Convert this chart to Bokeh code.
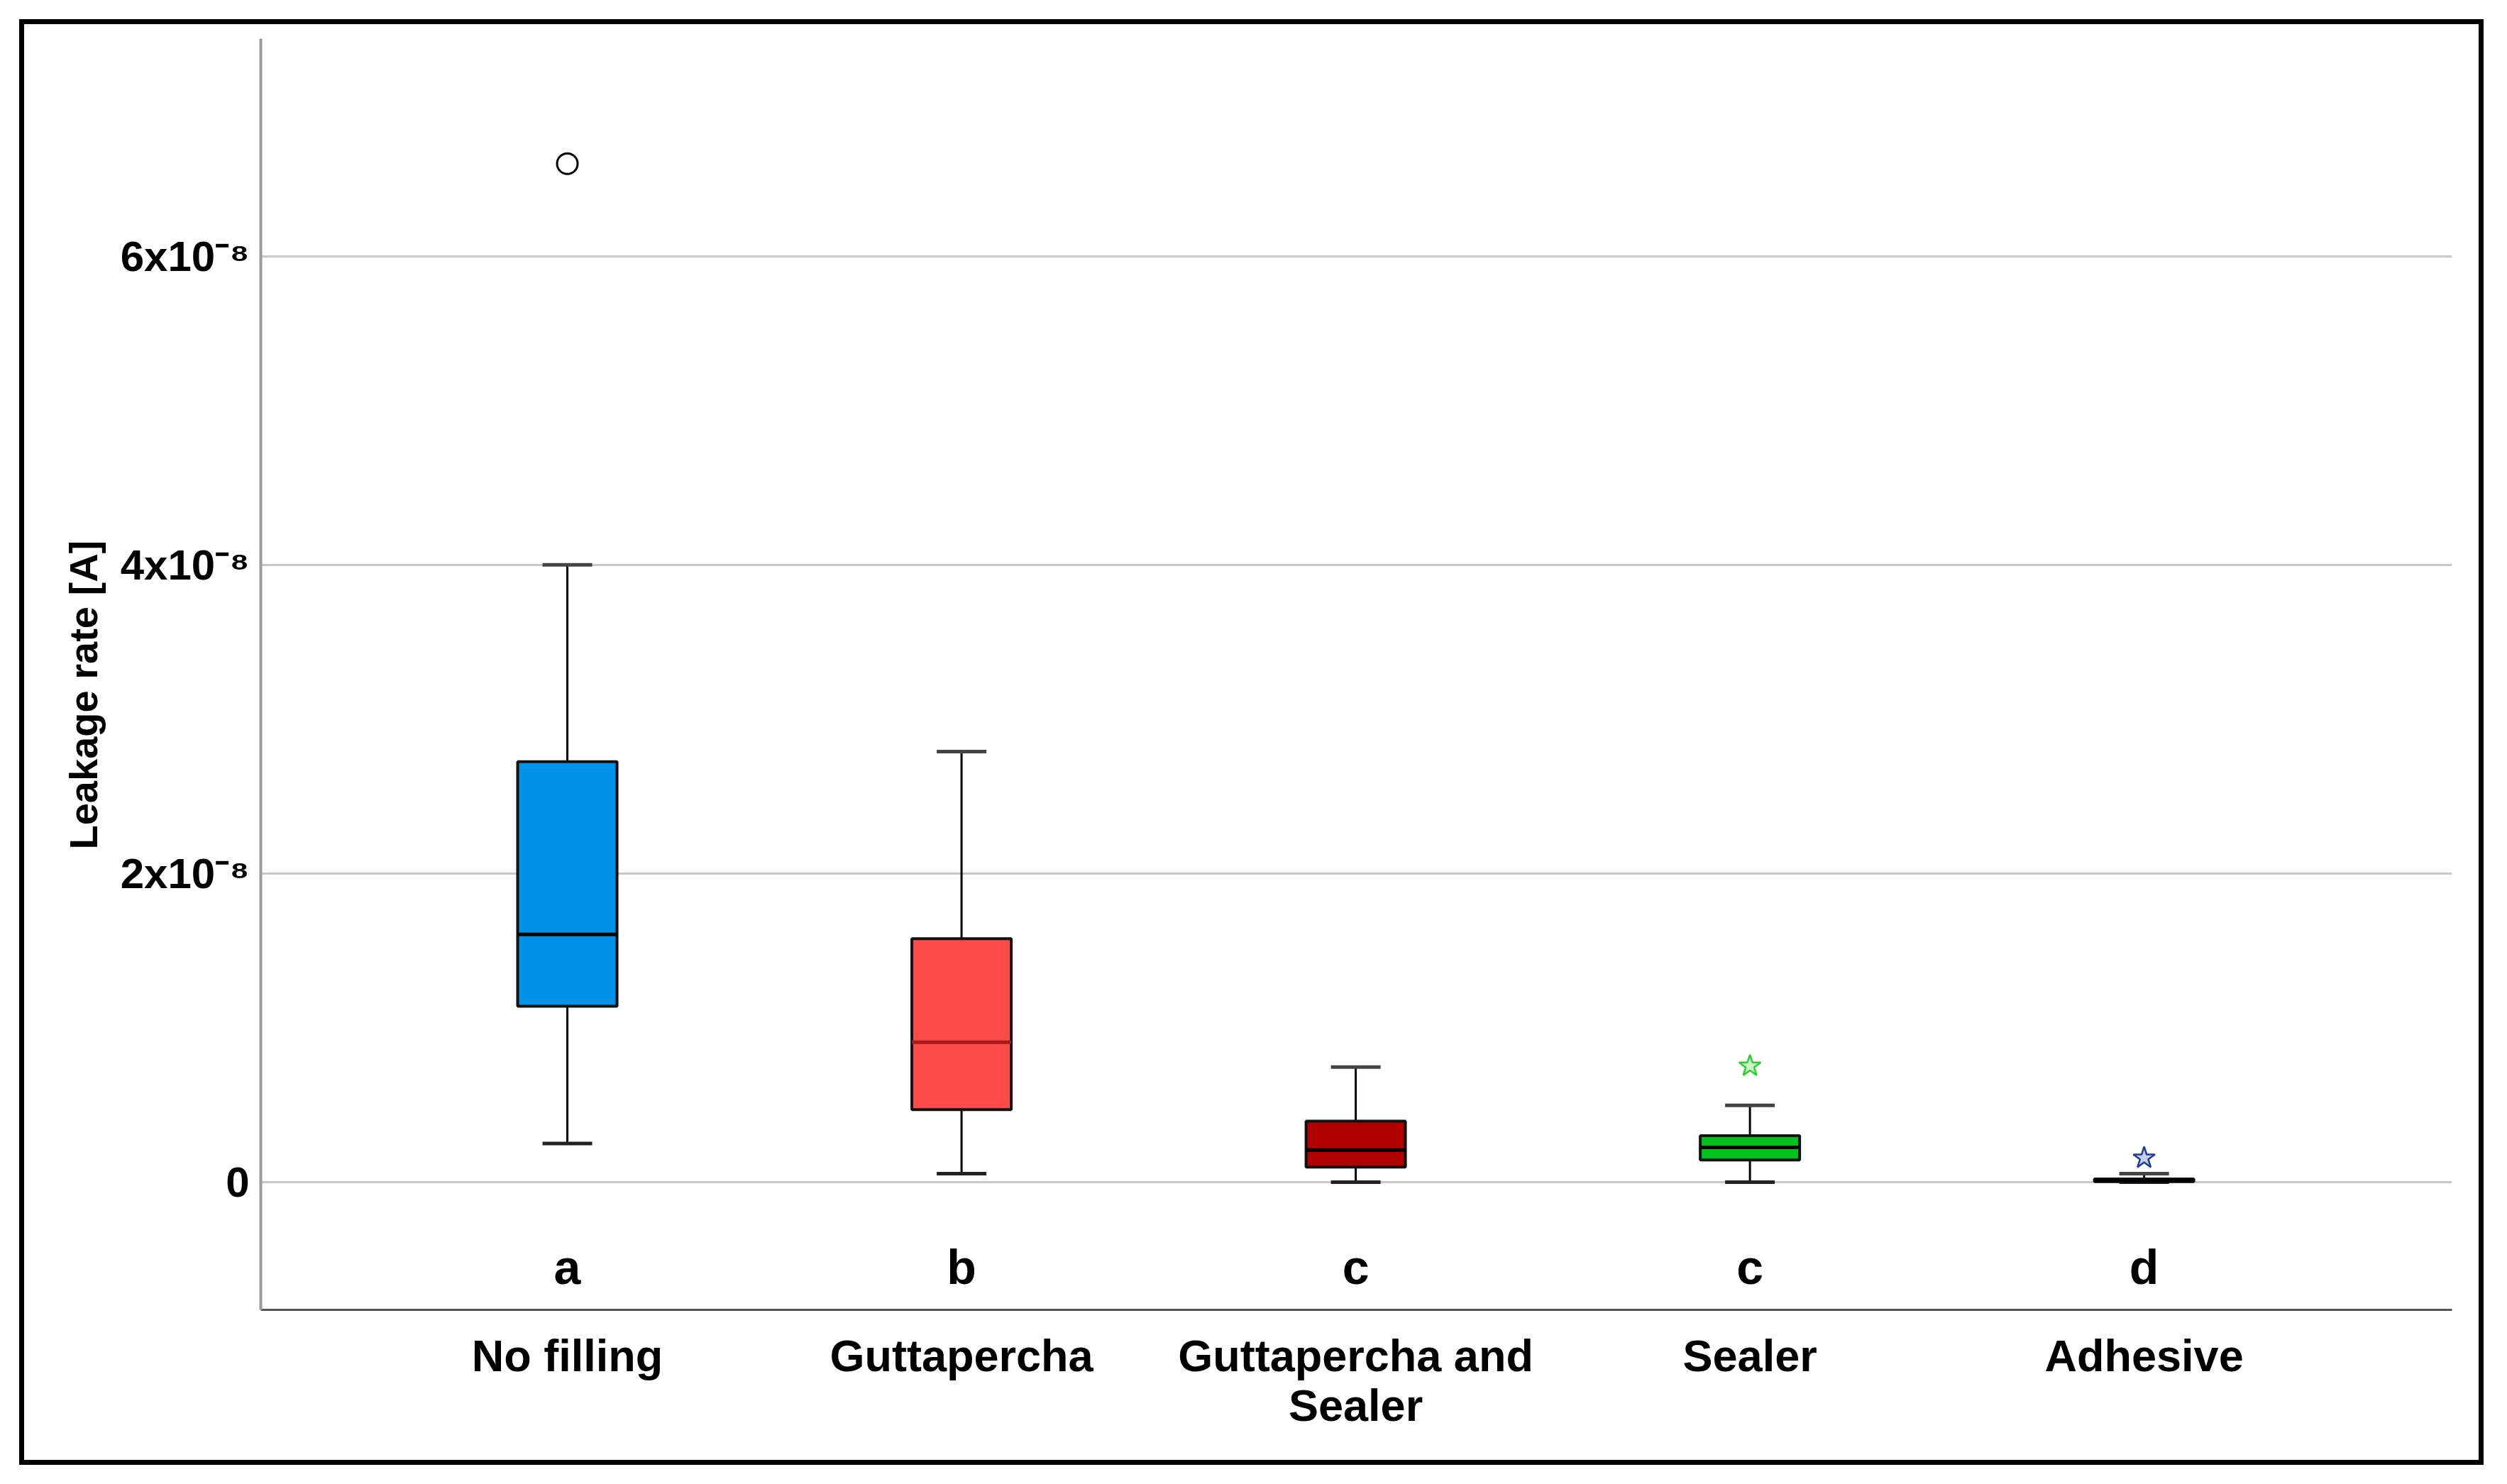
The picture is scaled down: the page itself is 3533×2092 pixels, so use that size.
from bokeh.plotting import figure
from bokeh.models import Range1d, FixedTicker, Title
from bokeh.embed import file_html
from bokeh.resources import INLINE
from bokeh.core.properties import value

# ---- data (leakage rate, in units of 1e-8 A) ----
categories = ["No filling", "Guttapercha", "Guttapercha and\nSealer", "Sealer", "Adhesive"]
letters = ["a", "b", "c", "c", "d"]
lower_whisker = [0.25, 0.055, 0.0, 0.0, 0.0]
q1 = [1.14, 0.47, 0.097, 0.143, 0.003]
median = [1.605, 0.906, 0.207, 0.225, 0.010]
q3 = [2.724, 1.577, 0.395, 0.301, 0.020]
upper_whisker = [4.0, 2.79, 0.745, 0.497, 0.055]
box_colors = ["#0091E8", "#FF4A4A", "#B00000", "#00C21A", "#101828"]
median_colors = ["#000000", "#A01E1E", "#000000", "#000000", "#000000"]
outlier_group = [1]
outlier_value = [6.60]
extreme_group = [4, 5]
extreme_value = [0.752, 0.156]
extreme_colors = ["#2ECC2E", "#1F3C96"]
y_ticks = [0, 2, 4, 6]
y_tick_labels = ["0", "2x10⁻⁸", "4x10⁻⁸", "6x10⁻⁸"]
y_title = "Leakage rate [A]"

# ---- style constants ----
BOX_W = 0.252
CAP_W = 0.126
LETTER_Y = -0.55
FONT = "Liberation Sans"

positions = list(range(1, len(categories) + 1))
half_box = [x - BOX_W / 2 for x in positions], [x + BOX_W / 2 for x in positions]
half_cap = [x - CAP_W / 2 for x in positions], [x + CAP_W / 2 for x in positions]

p = figure(width=3511, height=2076,
           x_range=Range1d(0.2223, 5.781), y_range=Range1d(-0.828, 7.41),
           output_backend="svg", toolbar_location=None,
           min_border_left=359, min_border_right=64,
           min_border_top=46, min_border_bottom=238)
p.margin = (8, 0, 0, 8)
p.border_fill_alpha = 0
p.background_fill_color = "white"
p.outline_line_color = None
p.styles = {"outline": "7px solid black", "outline-offset": "-26px"}

# grid
p.xgrid.visible = False
p.ygrid.ticker = FixedTicker(ticks=y_ticks)
p.ygrid.grid_line_color = "#C8C8C8"
p.ygrid.grid_line_width = 3

# y axis
ya = p.yaxis[0]
ya.ticker = FixedTicker(ticks=y_ticks)
ya.major_label_overrides = dict(zip(y_ticks, y_tick_labels))
ya.major_label_text_font = FONT
ya.major_label_text_font_size = "60px"
ya.major_label_text_font_style = "bold"
ya.major_label_text_color = "black"
ya.major_tick_line_color = None
ya.minor_tick_line_color = None
ya.major_label_standoff = 10
ya.axis_line_color = "#9A9A9A"
ya.axis_line_width = 4

p.add_layout(Title(text=y_title, align="left", offset=649, standoff=35,
                   text_font=FONT, text_font_size="56px", text_font_style="bold",
                   text_color="black"), "left")

# x axis
xa = p.xaxis[0]
xa.ticker = FixedTicker(ticks=positions)
xa.major_label_overrides = dict(zip(positions, categories))
xa.major_label_text_font = FONT
xa.major_label_text_font_size = "63px"
xa.major_label_text_font_style = "bold"
xa.major_label_text_color = "black"
xa.major_label_text_line_height = 1.0
xa.major_tick_line_color = None
xa.minor_tick_line_color = None
xa.major_label_standoff = 23
xa.axis_line_color = "#555555"
xa.axis_line_width = 3

# whiskers
p.segment(x0=positions, y0=q3, x1=positions, y1=upper_whisker, line_color="black", line_width=3)
p.segment(x0=positions, y0=q1, x1=positions, y1=lower_whisker, line_color="black", line_width=3)
# caps
p.segment(x0=half_cap[0], y0=upper_whisker, x1=half_cap[1], y1=upper_whisker, line_color="#444444", line_width=5)
p.segment(x0=half_cap[0], y0=lower_whisker, x1=half_cap[1], y1=lower_whisker, line_color="#222222", line_width=5)
# boxes
p.vbar(x=positions, width=BOX_W, bottom=q1, top=q3, fill_color=box_colors,
       line_color="#111111", line_width=4)
# medians
p.segment(x0=half_box[0], y0=median, x1=half_box[1], y1=median, line_color=median_colors, line_width=5)

# outliers
p.scatter(x=outlier_group, y=outlier_value, marker="circle", size=29,
          fill_color="white", line_color="black", line_width=3)
p.scatter(x=extreme_group, y=extreme_value, marker="star", size=32,
          fill_color=extreme_colors, fill_alpha=0.25, line_color=extreme_colors, line_width=2.5)

# significance letters
p.text(x=positions, y=[LETTER_Y] * len(positions), text=letters,
       text_align="center", text_baseline="alphabetic",
       text_font=value(FONT), text_font_size="68px", text_font_style="bold",
       text_color="black")

open("out.html", "w").write(file_html(p, INLINE))
